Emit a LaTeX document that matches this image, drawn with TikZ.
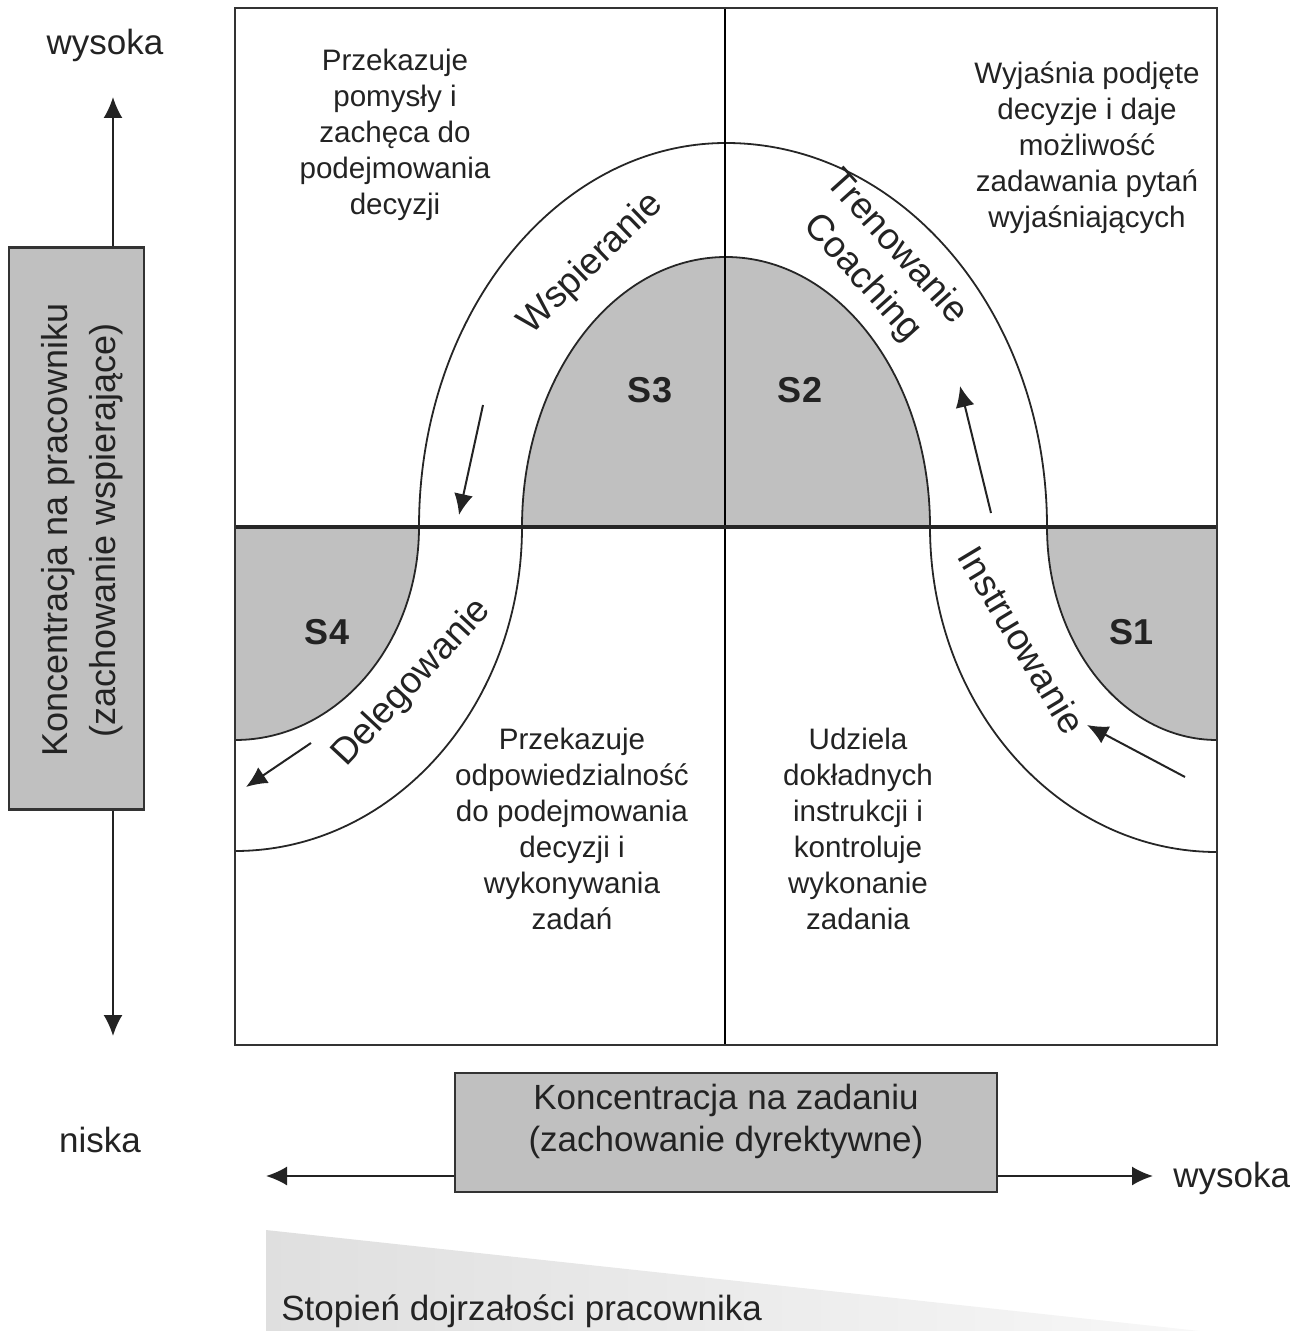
\documentclass[tikz,border=0pt]{standalone}
\usepackage{fontspec}
\setmainfont{Liberation Sans}
\usetikzlibrary{arrows.meta,shadings}
\definecolor{fillgray}{RGB}{192,192,192}
\definecolor{txt}{RGB}{35,35,35}
\begin{document}
\begin{tikzpicture}[x=0.5pt,y=-0.5pt,
  body/.style={align=center,font=\fontsize{14.8}{18}\selectfont,text=txt,inner sep=0pt},
  axis/.style={font=\fontsize{17.5}{21}\selectfont,text=txt,inner sep=0pt},
  curv/.style={font=\fontsize{18.5}{23}\selectfont,text=txt,inner sep=0pt,align=center},
  slab/.style={font=\fontsize{18}{21}\selectfont\bfseries,text=txt,inner sep=0pt},
  arr/.style={-{Latex[length=10.5pt,width=9.5pt]},line width=1pt,draw=txt},
  arch/.style={line width=0.9pt,draw=black!85},
  gbox/.style={draw=black!80,line width=1.2pt,fill=fillgray,inner sep=0pt}
]
\useasboundingbox (0,0) rectangle (1292,1331);

% maturity wedge
\shade[left color=gray!25,right color=gray!6] (266,1230) -- (1200,1331) -- (266,1331) -- cycle;

% grey regions
\fill[fillgray] (522,527) arc[start angle=180,end angle=360,x radius=204,y radius=270] -- cycle;
\fill[fillgray] (235,527) -- (419,527) arc[start angle=0,end angle=90,x radius=184,y radius=213] -- cycle;
\fill[fillgray] (1217,527) -- (1047,527) arc[start angle=180,end angle=90,x radius=170,y radius=213] -- cycle;

% curve band
\draw[arch] (522,527) arc[start angle=180,end angle=360,x radius=204,y radius=270];
\draw[arch] (419,527) arc[start angle=180,end angle=270,x radius=307,y radius=384]
                      arc[start angle=270,end angle=360,x radius=321,y radius=384];
\draw[arch] (419,527) arc[start angle=0,end angle=90,x radius=184,y radius=213];
\draw[arch] (522,527) arc[start angle=0,end angle=90,x radius=287,y radius=324];
\draw[arch] (1047,527) arc[start angle=180,end angle=90,x radius=170,y radius=213];
\draw[arch] (930,527) arc[start angle=180,end angle=90,x radius=287,y radius=325];

% quadrant grid and frame
\draw[line width=0.75pt] (725,8) -- (725,1045);
\draw[line width=1.6pt,draw=black!85] (235,527) -- (1217,527);
\draw[line width=1.1pt,draw=black!80] (235,8) rectangle (1217,1045);

% direction arrows
\coordinate (a1s) at (483,405); \coordinate (a1e) at (459,515);
\coordinate (a2s) at (991,513); \coordinate (a2e) at (960,386);
\coordinate (a3s) at (1185,777); \coordinate (a3e) at (1087,725);
\coordinate (a4s) at (311,743); \coordinate (a4e) at (246,787);
\draw[arr] (a1s) -- (a1e);
\draw[arr] (a2s) -- (a2e);
\draw[arr] (a3s) -- (a3e);
\draw[arr] (a4s) -- (a4e);

% style labels
\node[slab] (s3) at (650,390) {S3};
\node[slab] (s2) at (800,390) {S2};
\node[slab] (s4) at (327,632) {S4};
\node[slab] (s1) at (1131,632) {S1};

\node[curv,rotate=44] (wsp) at (591,264) {Wspieranie};
\node[curv,rotate=-48] (tren) at (879,263) {Trenowanie\\Coaching};
\node[curv,rotate=47] (del) at (412,683) {Delegowanie};
\node[curv,rotate=-59] (ins) at (1022,640) {Instruowanie};

% quadrant descriptions
\node[body] (t1) at (395,135) {Przekazuje\\pomysły i\\zachęca do\\podejmowania\\decyzji};
\node[body] (t2) at (1087,148) {Wyjaśnia podjęte\\decyzje i daje\\możliwość\\zadawania pytań\\wyjaśniających};
\node[body] (t3) at (572,829) {Przekazuje\\odpowiedzialność\\do podejmowania\\decyzji i\\wykonywania\\zadań};
\node[body] (t4) at (858,829) {Udziela\\dokładnych\\instrukcji i\\kontroluje\\wykonanie\\zadania};

% vertical axis
\node[gbox,minimum width=67.5pt,minimum height=281pt] (pbox) at (76.5,528.5) {};
\node[text=txt,inner sep=0pt,rotate=90,align=center,font=\fontsize{18}{24}\selectfont] (ptxt) at (82,530) {Koncentracja na pracowniku\\(zachowanie wspierające)};
\coordinate (ptop) at (113,97);
\coordinate (pbot) at (113,1036);
\draw[arr] (ptop |- pbox.north) -- (ptop);
\draw[arr] (pbot |- pbox.south) -- (pbot);

% horizontal axis
\node[gbox,minimum width=271pt,minimum height=59.5pt] (tbox) at (726,1132.5) {};
\node[axis,align=center] (ttxt) at (726,1121) {Koncentracja na zadaniu\\(zachowanie dyrektywne)};
\coordinate (tleft) at (266,1176);
\coordinate (tright) at (1153,1176);
\draw[arr] (tbox.west |- tleft) -- (tleft);
\draw[arr] (tbox.east |- tleft) -- (tright);

% end labels
\node[axis] (hi1) at (105,45) {wysoka};
\node[axis] (lo1) at (100,1140) {niska};
\node[axis,anchor=west] (hi2) at (1173,1178) {wysoka};
\node[axis,anchor=west] (mat) at (281,1311) {Stopień dojrzałości pracownika};
\end{tikzpicture}
\end{document}
